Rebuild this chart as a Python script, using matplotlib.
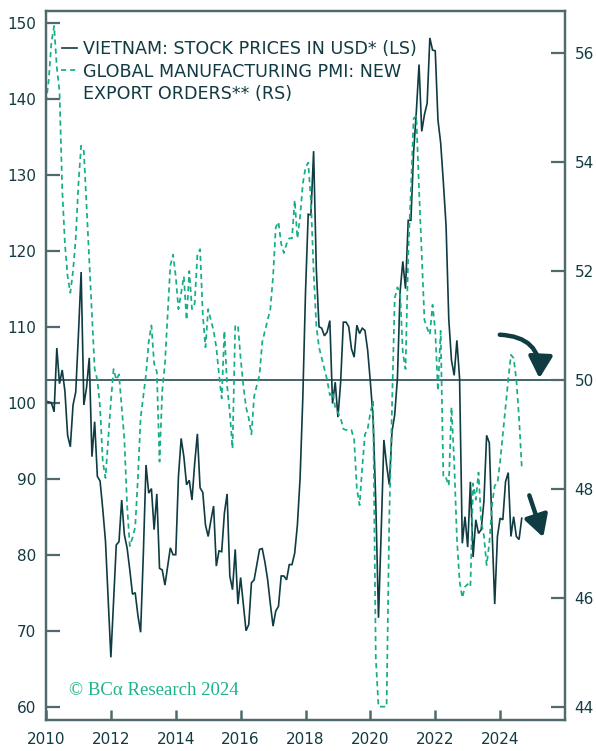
import numpy as np
import pandas as pd
import matplotlib
matplotlib.use("Agg")
import matplotlib.pyplot as plt
from matplotlib.lines import Line2D

# ---------------- data (monthly, Jan 2010 .. Sep 2024) ----------------
start_month = "2010-01-01"

vietnam_stocks = [
    100.2, 100.1, 100.0, 98.8, 107.2, 102.5, 104.3, 101.5, 95.7, 94.2, 99.7, 101.4,   # 2010
    109.0, 117.2, 99.7, 102.0, 105.9, 92.9, 97.5, 90.3, 89.7, 86.0, 81.8, 74.0,      # 2011
    66.5, 74.0, 81.3, 81.7, 87.2, 82.6, 80.9, 78.0, 74.8, 75.0, 72.0, 69.8,          # 2012
    80.0, 91.8, 88.1, 88.7, 83.3, 88.0, 78.2, 78.0, 76.0, 78.5, 80.9, 80.0,          # 2013
    80.0, 90.3, 95.3, 92.9, 89.2, 89.8, 87.2, 92.0, 95.9, 88.8, 88.2, 83.9,          # 2014
    82.4, 84.5, 86.4, 78.5, 80.5, 80.4, 85.5, 88.0, 77.2, 75.4, 80.7, 73.5,          # 2015
    77.0, 73.5, 70.0, 70.8, 76.3, 76.7, 78.7, 80.7, 80.8, 79.0, 76.7, 73.5,          # 2016
    70.6, 72.6, 73.2, 77.2, 77.2, 76.7, 78.7, 78.7, 80.2, 83.9, 90.1, 100.6,         # 2017
    114.5, 124.8, 124.7, 133.1, 117.6, 110.0, 109.8, 108.8, 109.3, 110.8, 99.9, 102.7,  # 2018
    98.1, 102.7, 110.6, 110.6, 110.0, 107.1, 106.0, 110.2, 109.1, 109.8, 109.5, 106.9,  # 2019
    102.7, 98.0, 86.9, 71.7, 83.0, 95.1, 91.8, 89.2, 96.2, 98.4, 103.2, 114.6,       # 2020
    118.6, 115.0, 124.0, 124.0, 133.0, 138.3, 144.5, 135.7, 137.9, 139.4, 148.0, 146.4,  # 2021
    146.3, 137.2, 134.2, 129.0, 123.3, 111.0, 105.6, 103.6, 108.2, 103.2, 81.5, 85.0,    # 2022
    81.0, 89.6, 79.7, 84.6, 82.8, 83.3, 87.0, 95.7, 94.7, 83.4, 73.5, 82.4,          # 2023
    84.8, 84.6, 89.6, 90.8, 82.4, 85.0, 82.4, 82.0, 84.8,                            # 2024
]

pmi_new_export_orders = [
    55.1, 55.5, 56.2, 56.5, 55.74, 55.3, 53.5, 52.5, 51.9, 51.6, 52.0, 52.6,        # 2010
    53.6, 54.3, 54.2, 53.2, 52.2, 51.2, 50.2, 50.0, 49.5, 48.5, 48.2, 48.9,         # 2011
    49.6, 50.2, 50.0, 50.1, 49.5, 48.9, 47.7, 46.95, 47.1, 47.3, 48.2, 49.3,        # 2012
    49.7, 50.1, 50.7, 51.0, 50.3, 50.15, 48.5, 49.8, 50.3, 51.2, 52.1, 52.3,        # 2013
    51.9, 51.3, 51.6, 51.9, 51.1, 52.0, 51.3, 51.4, 52.3, 52.4, 51.2, 50.6,         # 2014
    51.3, 51.1, 50.9, 50.6, 50.1, 49.66, 50.9, 49.9, 49.4, 48.74, 51.0, 51.0,       # 2015
    50.4, 49.9, 49.5, 49.3, 49.0, 49.7, 49.9, 50.1, 50.7, 50.9, 51.1, 51.3,         # 2016
    51.9, 52.8, 52.9, 52.5, 52.33, 52.5, 52.6, 52.6, 53.3, 52.6, 53.0, 53.6,        # 2017
    53.9, 53.99, 53.3, 52.0, 51.0, 50.6, 50.4, 50.2, 50.0, 49.72, 49.78, 49.5,      # 2018
    49.4, 49.3, 49.1, 49.08, 49.08, 49.08, 48.9, 48.0, 47.7, 48.4, 49.0, 49.1,      # 2019
    49.4, 49.6, 44.9, 44.0, 44.0, 44.0, 44.0, 47.5, 49.5, 51.5, 51.7, 51.6,         # 2020
    50.5, 50.2, 52.3, 53.5, 54.8, 54.85, 53.5, 52.3, 51.1, 50.95, 50.83, 51.38,     # 2021
    50.9, 49.8, 50.9, 48.2, 48.2, 48.06, 49.5, 48.5, 47.1, 46.3, 46.0, 46.2,        # 2022
    46.25, 46.2, 48.1, 47.8, 48.3, 47.4, 47.14, 46.6, 47.0, 47.7, 48.06, 48.1,      # 2023
    48.5, 49.0, 49.5, 50.0, 50.46, 50.4, 50.0, 49.3, 48.4,                          # 2024
]

left_ticks = list(range(60, 151, 10))
right_ticks = list(range(44, 57, 2))
year_ticks = list(range(2010, 2025, 2))
pmi_threshold = 50

legend_stock = "VIETNAM: STOCK PRICES IN USD* (LS)"
legend_pmi_1 = "GLOBAL MANUFACTURING PMI: NEW"
legend_pmi_2 = "EXPORT ORDERS** (RS)"
copyright_text = "© BCα Research 2024"

# ---------------- style ----------------
DARK = "#0f3b42"
GREEN = "#17ad86"
SPINE = "#50696c"
TXT = "#123a42"
FONT = ["DejaVu Sans"]
plt.rcParams["font.family"] = FONT

W, H = 596, 751
fig = plt.figure(figsize=(W / 100, H / 100), dpi=100)
L, R, T, B = 46, 565, 10.7, 720
ax = fig.add_axes([L / W, 1 - B / H, (R - L) / W, (B - T) / H])
ax2 = ax.twinx()

dates = pd.date_range(start_month, periods=len(vietnam_stocks), freq="MS")
xs = dates.year + (dates.month - 1) / 12.0
dates2 = pd.date_range(start_month, periods=len(pmi_new_export_orders), freq="MS")
xs2 = dates2.year + (dates2.month - 1) / 12.0

ax.plot(xs, vietnam_stocks, color=DARK, lw=1.2, zorder=3, solid_joinstyle="miter")
ax2.plot(xs2, pmi_new_export_orders, color=GREEN, lw=1.25, ls=(0, (3.0, 2.2)), zorder=2)
ax2.axhline(pmi_threshold, color=DARK, lw=1.1, zorder=1)

ax.set_xlim(2010, 2026)
ax.set_ylim(58.25, 151.58)
ax2.set_ylim(43.755, 56.78)

ax.set_xticks(year_ticks)
ax.set_xticklabels([str(y) for y in year_ticks])
ax.set_yticks(left_ticks)
ax2.set_yticks(right_ticks)

for a in (ax, ax2):
    for s in a.spines.values():
        s.set_color(SPINE)
        s.set_linewidth(1.6)
ax.tick_params(axis="x", direction="in", length=7.5, width=1.8, color=SPINE,
               labelsize=11, labelcolor=TXT, pad=9)
ax.tick_params(axis="y", direction="in", length=10, width=1.6, color=SPINE,
               labelsize=11, labelcolor=TXT, pad=7)
ax2.tick_params(axis="y", direction="in", length=10, width=1.6, color=SPINE,
                labelsize=11, labelcolor=TXT, pad=7)

# legend drawn manually
fig.add_artist(Line2D([62 / W, 77 / W], [1 - 47.7 / H] * 2, color=DARK, lw=1.2))
fig.add_artist(Line2D([61 / W, 77 / W], [1 - 70 / H] * 2, color=GREEN, lw=1.25,
                      ls=(0, (3.0, 2.2))))
for txt, base in ((legend_stock, 54.3), (legend_pmi_1, 77.3), (legend_pmi_2, 99.3)):
    fig.text(82.7 / W, 1 - base / H, txt, va="baseline", ha="left",
             fontsize=12.6, color=TXT)

# copyright
fig.text(69 / W, 1 - 690.7 / H, copyright_text, va="center", ha="left",
         fontsize=13.5, color="#1fb38b", family=["Liberation Serif", "DejaVu Serif"])

# arrows
ax2.annotate("", xy=(2025.21, 50.03), xytext=(2023.99, 50.83),
             arrowprops=dict(arrowstyle="-|>,head_length=0.65,head_width=0.36",
                             connectionstyle="arc3,rad=-0.5", color=DARK, lw=3.2,
                             shrinkA=0, shrinkB=0, mutation_scale=20))
ax2.annotate("", xy=(2025.33, 47.11), xytext=(2024.90, 47.88),
             arrowprops=dict(arrowstyle="-|>,head_length=0.65,head_width=0.36",
                             color=DARK, lw=3.2, shrinkA=0, shrinkB=0,
                             mutation_scale=20))

fig.savefig("out.png", dpi=100)
